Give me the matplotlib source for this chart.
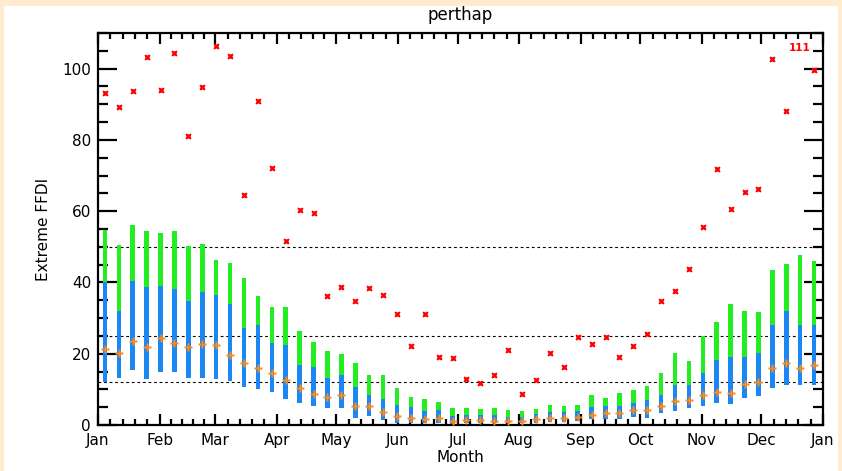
import numpy as np
import matplotlib
matplotlib.use("Agg")
import matplotlib.pyplot as plt
from matplotlib.ticker import FixedLocator

plt.rcParams['font.family'] = ['DejaVu Sans']

# Weekly statistics of FFDI (52 weeks)
week_day = 3.5 + 7 * np.arange(52)

green_top = [54.8, 50.4, 56.2, 54.3, 53.9, 54.3, 50.1, 50.7, 46.4, 45.5,
             41.3, 36.1, 33.2, 33.2, 26.4, 23.3, 20.9, 20.0, 17.5, 14.1,
             14.1, 10.4, 7.8, 7.2, 6.5, 4.9, 4.9, 4.4, 4.9, 4.2,
             3.8, 4.4, 5.6, 5.3, 5.6, 8.3, 7.5, 8.9, 9.8, 11.0,
             14.7, 20.1, 18.0, 25.1, 28.8, 33.9, 32.1, 31.7, 43.4, 45.3,
             47.6, 46.0]
blue_top = [40.1, 32.1, 40.5, 38.7, 39.0, 38.2, 34.8, 37.4, 36.6, 34.0,
            27.3, 28.0, 22.9, 22.5, 16.8, 16.2, 13.3, 13.9, 10.8, 8.5,
            7.3, 5.6, 5.0, 3.9, 4.2, 2.5, 2.8, 2.8, 2.8, 2.3,
            2.2, 3.1, 3.7, 3.7, 3.8, 5.0, 5.2, 5.4, 6.3, 7.0,
            8.5, 11.3, 11.1, 14.5, 18.1, 19.0, 19.0, 20.1, 28.0, 31.9,
            28.0, 28.0]
bottom = [12.2, 13.3, 15.3, 13.0, 15.0, 15.0, 13.3, 13.3, 13.0, 12.4,
          10.8, 10.2, 9.2, 7.4, 6.1, 5.2, 4.8, 4.7, 1.9, 2.5,
          1.4, 0.5, 0.5, 0.5, 0.6, 0.3, 0.5, 0.5, 0.5, 0.5,
          0.5, 0.6, 0.8, 0.8, 1.0, 1.6, 1.6, 1.6, 2.3, 1.9,
          3.5, 4.0, 4.7, 5.3, 6.1, 5.8, 7.7, 8.0, 10.5, 11.1,
          11.1, 11.1]
median = [21.4, 20.3, 23.7, 21.9, 24.3, 23.0, 21.9, 22.8, 22.5, 19.6,
          17.5, 15.9, 14.6, 12.6, 10.4, 8.6, 7.9, 8.3, 5.4, 5.2,
          3.7, 2.5, 2.1, 1.6, 1.9, 1.1, 1.4, 1.4, 1.1, 1.1,
          1.1, 1.6, 1.9, 2.1, 2.3, 2.8, 3.3, 3.3, 4.2, 4.2,
          5.4, 6.8, 7.0, 8.4, 9.4, 9.1, 11.5, 12.0, 16.1, 17.5,
          16.1, 16.8]
maximum = [93.2, 89.2, 93.6, 103.4, 93.9, 104.4, 81.0, 94.9, 106.3, 103.5,
           64.6, 90.8, 72.2, 51.6, 60.2, 59.6, 36.1, 38.7, 34.8, 38.4,
           36.6, 31.2, 22.2, 31.1, 19.0, 18.7, 12.9, 11.7, 14.0, 21.1,
           8.6, 12.7, 20.1, 16.2, 24.6, 22.7, 24.8, 19.1, 22.2, 25.6,
           34.9, 37.7, 43.7, 55.7, 71.7, 60.6, 65.3, 66.3, 102.8, 88.2,
           111.0, 99.7]

month_start = [0, 31, 59, 90, 120, 151, 181, 212, 243, 273, 304, 334, 365]
month_names = ["Jan", "Feb", "Mar", "Apr", "May", "Jun", "Jul", "Aug",
               "Sep", "Oct", "Nov", "Dec", "Jan"]
thresholds = [12, 25, 50]
y_max = 110

fig = plt.figure(figsize=(8.42, 4.71), dpi=100, facecolor='#ffebcd')
# white canvas inside the cream frame
fig.patches.append(plt.Rectangle((4 / 842, 0), 1 - 8 / 842, 1 - 6 / 471,
                                 transform=fig.transFigure, facecolor='white',
                                 edgecolor='none', zorder=-10))
ax = fig.add_axes([98 / 842, 1 - 425 / 471, 725 / 842, 392 / 471])
ax.set_facecolor('white')

for t in thresholds:
    ax.axhline(t, color='black', lw=0.8, ls=(0, (2.5, 2.5)), zorder=1)

green_h = np.array(green_top) - np.array(bottom)
blue_h = np.array(blue_top) - np.array(bottom)
ax.bar(week_day, green_h, bottom=bottom, width=2.3, color='#22ee22', zorder=2)
ax.bar(week_day, blue_h, bottom=bottom, width=2.3, color='#1a87f5', zorder=3)
ax.plot(week_day, median, 'P', color='#ff8a1a', ms=6.3, mec='none', zorder=4)

maximum = np.array(maximum)
inside = maximum <= y_max
ax.plot(week_day[inside], maximum[inside], 'X', color='red', ms=4.5, mec='none',
        zorder=5)
for d, m in zip(week_day[~inside], maximum[~inside]):
    ax.text(d, 105.7, f"{m:.0f}", color='red', fontsize=7.5, ha='center',
            va='center', fontweight='bold')

ax.set_xlim(0, 365)
ax.set_ylim(0, y_max)
ax.set_xticks(month_start)
ax.set_xticklabels(month_names)
minor_x = []
for a, b in zip(month_start[:-1], month_start[1:]):
    minor_x += [a + (b - a) * k / 5 for k in range(1, 5)]
ax.xaxis.set_minor_locator(FixedLocator(minor_x))
ax.set_yticks(np.arange(0, 101, 20))
ax.yaxis.set_minor_locator(FixedLocator(np.arange(0, 111, 5)))

ax.tick_params(axis='both', which='both', direction='in', top=True, right=True,
               width=1.6, labelsize=11, colors='black')
ax.tick_params(axis='y', which='major', length=14, pad=5)
ax.tick_params(axis='y', which='minor', length=7)
ax.tick_params(axis='x', which='major', length=8, pad=6)
ax.tick_params(axis='x', which='minor', length=4)
for s in ax.spines.values():
    s.set_linewidth(1.6)

ax.set_title("perthap", fontsize=12, pad=9)
ax.set_xlabel("Month", fontsize=11, labelpad=1)
ax.set_ylabel("Extreme FFDI", fontsize=11, labelpad=8)

fig.savefig("out.png", dpi=100, facecolor=fig.get_facecolor())
